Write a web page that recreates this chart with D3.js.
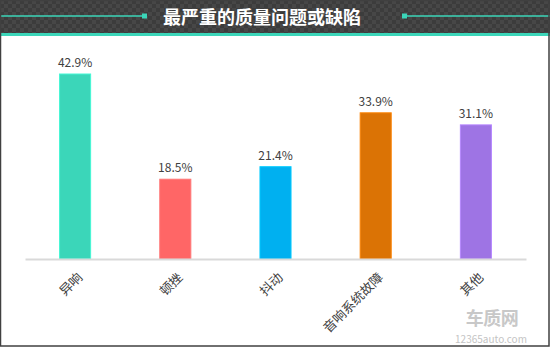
<!DOCTYPE html>
<html><head><meta charset="utf-8">
<script src="https://cdn.jsdelivr.net/npm/d3@7"></script>
<style>
html,body{margin:0;padding:0;background:#fff;}
svg{display:block;font-family:"Noto Sans CJK SC","Noto Sans",sans-serif;}
</style></head>
<body>
<svg id="c" width="550" height="347"></svg>
<script>
const title = "最严重的质量问题或缺陷";
const categories = ["异响","顿挫","抖动","音响系统故障","其他"];
const values = [42.9,18.5,21.4,33.9,31.1];
const colors = ["#3BD6B9","#FF6666","#00B0F0","#DB7305","#9E74E4"];
const valueLabels = ["42.9%","18.5%","21.4%","33.9%","31.1%"];

const W=550,H=347;
const svg=d3.select("#c");
const defs=svg.append("defs");
const pat=defs.append("pattern").attr("id","chk").attr("width",8).attr("height",8).attr("patternUnits","userSpaceOnUse");
pat.append("rect").attr("width",8).attr("height",8).attr("fill","#3c3c3c");
pat.append("rect").attr("width",4).attr("height",4).attr("fill","#474747");
pat.append("rect").attr("x",4).attr("y",4).attr("width",4).attr("height",4).attr("fill","#474747");

svg.append("rect").attr("x",0).attr("y",0).attr("width",W).attr("height",H).attr("fill","#fff");
svg.append("rect").attr("x",0).attr("y",0).attr("width",W).attr("height",33).attr("fill","url(#chk)");
svg.append("rect").attr("x",0).attr("y",33).attr("width",W).attr("height",3).attr("fill","#3BD6B9");
// decorative lines
svg.append("line").attr("x1",1).attr("x2",145).attr("y1",16).attr("y2",16).attr("stroke","#3BD6B9").attr("stroke-width",1.5);
svg.append("rect").attr("x",142).attr("y",13.5).attr("width",5).attr("height",5).attr("fill","#3BD6B9");
svg.append("line").attr("x1",404).attr("x2",550).attr("y1",16).attr("y2",16).attr("stroke","#3BD6B9").attr("stroke-width",1.5);
svg.append("rect").attr("x",402).attr("y",13.5).attr("width",5).attr("height",5).attr("fill","#3BD6B9");
svg.append("text").attr("x",262).attr("y",23.5).attr("text-anchor","middle").attr("fill","#fff")
  .attr("font-size",18).attr("font-weight","bold").text(title);

const x=d3.scaleBand().domain(categories).range([25,526]).paddingInner(0.69).paddingOuter(0.345);
const y=d3.scaleLinear().domain([0,42.9]).range([259,74]);

svg.selectAll("rect.bar").data(values).enter().append("rect").attr("class","bar")
  .attr("x",(d,i)=>x(categories[i])).attr("width",x.bandwidth())
  .attr("y",d=>y(d)).attr("height",d=>y(0)-y(d))
  .attr("fill",(d,i)=>colors[i]).attr("stroke",(d,i)=>d3.color(colors[i]).brighter(0.4)).attr("stroke-width",1);

svg.selectAll("text.val").data(values).enter().append("text").attr("class","val")
  .attr("x",(d,i)=>x(categories[i])+x.bandwidth()/2).attr("y",d=>y(d)-7)
  .attr("text-anchor","middle").attr("font-size",12).attr("fill","#404040")
  .text((d,i)=>valueLabels[i]);

const ax=svg.append("g").attr("transform","translate(0,259)").call(d3.axisBottom(x).tickSize(0).tickPadding(0));
ax.select(".domain").attr("stroke","#d9d9d9").attr("stroke-width",2);
ax.selectAll("text").attr("font-size",13).attr("fill","#404040")
  .attr("font-family","'Noto Sans CJK SC',sans-serif")
  .attr("text-anchor","end").attr("dy","0.35em")
  .attr("transform","translate(5,16) rotate(-45)");

// watermark
svg.append("text").attr("x",492).attr("y",325).attr("text-anchor","middle").attr("font-size",18)
  .attr("font-weight","bold").attr("fill","#c8c8c8").attr("letter-spacing",-0.5).text("车质网");
svg.append("text").attr("x",491).attr("y",343).attr("text-anchor","middle").attr("font-size",10)
  .attr("fill","#c4c4c4").text("12365auto.com");

svg.append("rect").attr("x",0.5).attr("y",0.5).attr("width",W-1.5).attr("height",H-1.5)
  .attr("fill","none").attr("stroke","#404040").attr("stroke-width",1.5);
</script>
</body></html>
